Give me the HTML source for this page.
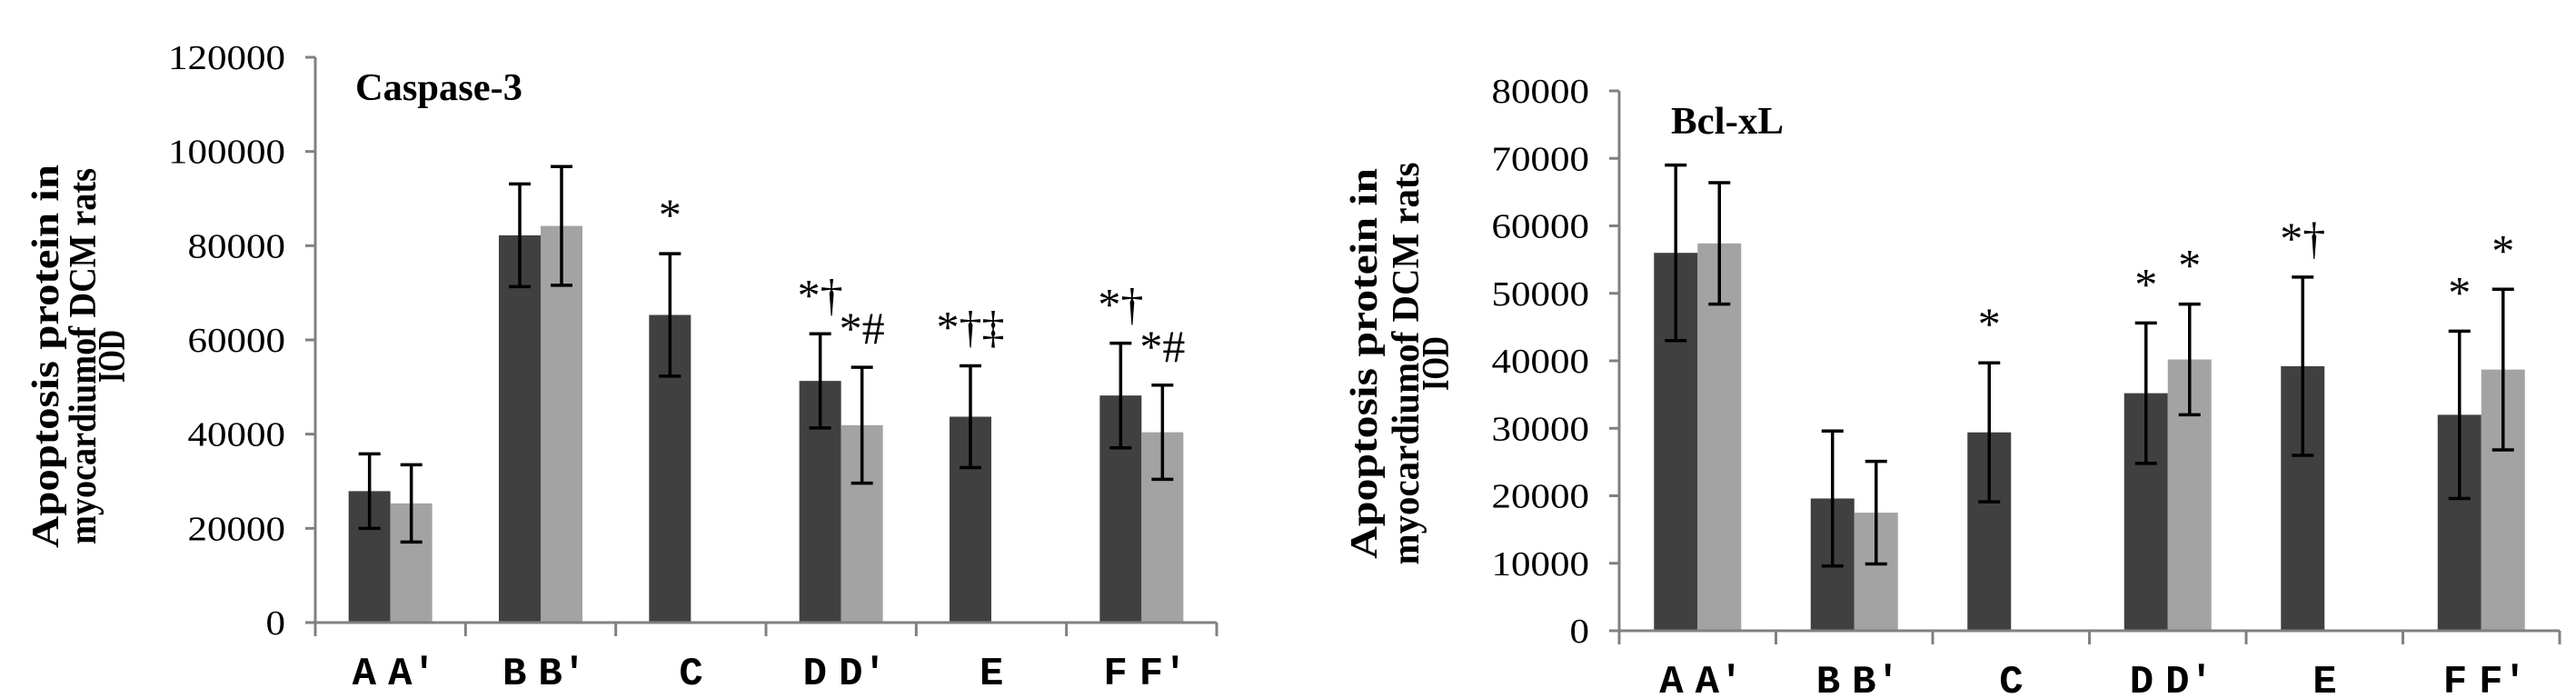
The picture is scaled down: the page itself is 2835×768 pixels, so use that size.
<!DOCTYPE html>
<html><head><meta charset="utf-8"><style>
html,body{margin:0;padding:0;background:#fff;}
svg{display:block;}
text{font-family:"Liberation Serif","DejaVu Serif",serif;fill:#000;}
.cat{font-family:"Liberation Mono",monospace;font-weight:bold;}
</style></head><body>
<svg id="chart" width="2835" height="768" viewBox="0 0 2835 768"></svg>
<script>
const categories = ["AA'", "BB'", "C", "DD'", "E", "FF'"];
// Caspase-3
const casDark = [27900, 82200, 65300, 51300, 43700, 48200];
const casDarkErr = [7900, 10900, 13000, 10000, 10800, 11100];
const casLight = [25300, 84200, null, 41900, null, 40400];
const casLightErr = [8200, 12600, null, 12300, null, 10000];
const casDarkMark = ["", "", "*", "*†", "*†‡", "*†"];
const casLightMark = ["", "", "", "*#", "", "*#"];
const casTicks = [0, 20000, 40000, 60000, 80000, 100000, 120000];
// Bcl-xL
const bclDark = [56000, 19600, 29400, 35200, 39200, 32000];
const bclDarkErr = [13000, 10000, 10300, 10400, 13200, 12400];
const bclLight = [57400, 17500, null, 40200, null, 38700];
const bclLightErr = [9000, 7600, null, 8200, null, 11900];
const bclDarkMark = ["", "", "*", "*", "*†", "*"];
const bclLightMark = ["", "", "", "*", "", "*"];
const bclTicks = [0, 10000, 20000, 30000, 40000, 50000, 60000, 70000, 80000];

const NS = "http://www.w3.org/2000/svg";
const svg = document.getElementById('chart');
function mk(tag, attrs, parent, txt){
  const e = document.createElementNS(NS, tag);
  for (const k in attrs) e.setAttribute(k, attrs[k]);
  if (txt !== undefined) e.textContent = txt;
  (parent || svg).appendChild(e);
  return e;
}

function drawChart(o){
  const g = mk('g', {});
  
  
  const yScale = v => o.y0 - v / o.max * (o.y0 - o.yTop);
  const gw = (o.x1 - o.x0) / categories.length;
  const xBar = (i, k) => o.x0 + gw * i + gw * 0.5 - (k === 0 ? o.bw : 0);
  const ya = mk('line', {x1:o.x0, y1:o.yTop, x2:o.x0, y2:o.y0, stroke:'#808080','stroke-width':3}, g);
  
  
  o.ticks.forEach(t => {
    const y = yScale(t);
    const tk = mk('line', {x1:o.x0-11, y1:y, x2:o.x0, y2:y, stroke:'#808080','stroke-width':3}, g);
    
    
    const s = String(t);
    const lb = mk('text', {x:o.x0-33, y:y+13, 'text-anchor':'end','font-size':38, textLength: s.length*21.5, lengthAdjust:'spacingAndGlyphs'}, g, s);
    
    
  });
  const series = [[o.dark, o.darkErr, '#404040', o.darkMark], [o.light, o.lightErr, '#a3a3a3', o.lightMark]];
  series.forEach((s, k) => {
    s[0].forEach((v, i) => {
      if (v === null) return;
      const x = xBar(i, k), y = yScale(v);
      const r = mk('rect', {x:x, y:y, width:o.bw, height:o.y0 - y, fill:s[2]}, g);
      
      
      const cx = x + o.bw / 2, e = s[1][i];
      const yt = yScale(v + e), yb = yScale(v - e);
      const eb = mk('path', {d:`M${cx},${yt}V${yb}M${cx-12},${yt}H${cx+12}M${cx-12},${yb}H${cx+12}`, stroke:'#000','stroke-width':3.5, fill:'none'}, g);
      
      
      if (s[3][i]) {
        const an = mk('text', {x:cx, y:yt - 26, 'text-anchor':'middle','font-size':50}, g, s[3][i]);
        
        
      }
    });
  });
  const xa = mk('line', {x1:o.x0, y1:o.y0, x2:o.x1, y2:o.y0, stroke:'#808080','stroke-width':3}, g);
  
  
  for (let i = 0; i <= categories.length; i++) {
    const x = o.x0 + gw * i;
    const tk = mk('line', {x1:x, y1:o.y0, x2:x, y2:o.y0+15, stroke:'#808080','stroke-width':3}, g);
    
    
  }
  categories.forEach((c, i) => {
    const cx = o.x0 + gw*(i+0.5);
    const lb = mk('text', {x: c.length > 1 ? cx - 42 : cx - 13, y:o.y0 + 68, 'font-size':44,'class':'cat'}, g);
    
    
    mk('tspan', {}, lb, c[0]);
    if (c.length > 1) mk('tspan', {dx: 13}, lb, c.slice(1));
  });
  const ti = mk('text', {x:o.titleX, y:o.titleY, 'font-size':42,'font-weight':'bold', textLength:o.titleW, lengthAdjust:'spacingAndGlyphs'}, g, o.title);
  
  
  ["Apoptosis protein in", o.line2, "IOD"].forEach((l, j) => {
    const lx = o.lineX[j];
    const yt = mk('text', {x:0, y:0, transform:`translate(${lx},${o.ytY}) rotate(-90)`, 'text-anchor':'middle','font-size':42,'font-weight':'bold', textLength:o.lineW[j], lengthAdjust:'spacingAndGlyphs'}, g, l);
    
    
  });
}

drawChart({name:'caspase-3-chart', x0:347, x1:1339, y0:685, yTop:63, max:120000, bw:46,
  ticks:casTicks, dark:casDark, darkErr:casDarkErr, light:casLight, lightErr:casLightErr,
  darkMark:casDarkMark, lightMark:casLightMark, title:'Caspase-3', titleX:391, titleY:110, titleW:184,
  lineX:[64, 105, 137], ytY:392, line2:'myocardiumof DCM  rats', lineW:[422, 414, 58]});
drawChart({name:'bcl-xl-chart', x0:1782, x1:2817, y0:694, yTop:100, max:80000, bw:48,
  ticks:bclTicks, dark:bclDark, darkErr:bclDarkErr, light:bclLight, lightErr:bclLightErr,
  darkMark:bclDarkMark, lightMark:bclLightMark, title:'Bcl-xL', titleX:1839, titleY:147, titleW:124,
  lineX:[1515, 1561, 1594], ytY:400, line2:'myocardiumof DCM  rats', lineW:[430, 443, 60]});
</script>
</body></html>
